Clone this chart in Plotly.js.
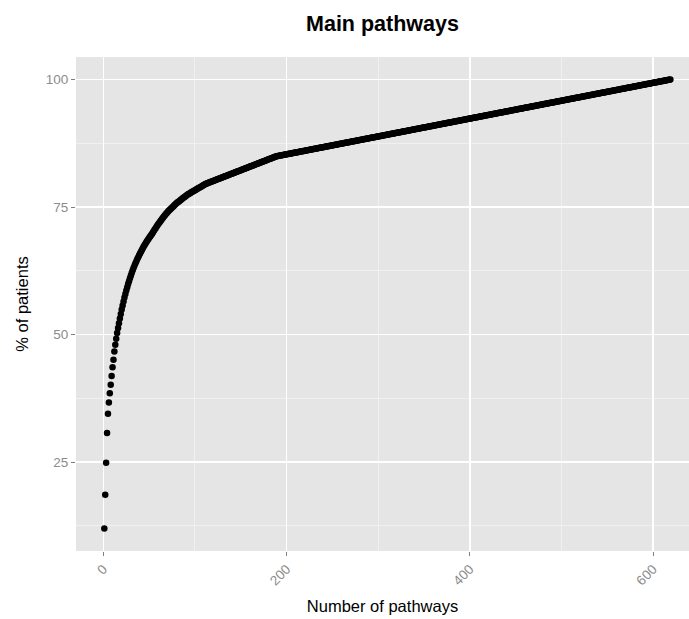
<!DOCTYPE html>
<html>
<head>
<meta charset="utf-8">
<script src="https://cdn.plot.ly/plotly-3.0.1.min.js"></script>
<style>html,body{margin:0;padding:0;background:#fff;}#chart{width:689px;height:619px;}</style>
</head>
<body>
<div id="chart"></div>
<script>
// Cumulative % of patients covered by the first N pathways (pathway 1, 2, 3, ...)
const firstPathways = [12.00, 18.60, 24.90, 30.70, 34.50, 36.70, 38.50, 40.20, 41.90, 43.60, 45.10, 46.70, 48.00, 49.20, 50.30];
const steepPart = [51.30, 52.25, 53.15, 54.05, 54.90, 55.70, 56.50, 57.25, 57.95, 58.65, 59.30, 59.90,
  60.48, 61.04, 61.58, 62.10, 62.60, 63.08, 63.54, 63.98, 64.40, 64.80, 65.18,
  65.55, 65.91, 66.26, 66.60, 66.93, 67.25, 67.56, 67.86, 68.15, 68.43, 68.70, 68.97, 69.23, 69.49, 69.74, 69.99];
const bendPart = [70.29, 70.58, 70.86, 71.14, 71.41, 71.67, 71.93, 72.18, 72.43, 72.67, 72.91, 73.14, 73.36, 73.58, 73.79, 74.00, 74.20, 74.38, 74.56, 74.73, 74.905,
  75.08, 75.255, 75.43, 75.605, 75.78,
  75.92, 76.06, 76.20, 76.34, 76.48, 76.62, 76.76, 76.90, 77.04, 77.18, 77.32, 77.46,
  77.565, 77.67, 77.775, 77.88, 77.985, 78.09, 78.195, 78.30, 78.405, 78.51, 78.615, 78.72, 78.825, 78.93, 79.035, 79.14, 79.245, 79.35, 79.455, 79.56];
const twoPatientPart = [79.63, 79.70, 79.77, 79.84, 79.91, 79.98, 80.05, 80.12, 80.19, 80.26, 80.33, 80.40, 80.47, 80.54, 80.61, 80.68, 80.75, 80.82, 80.89, 80.96,
  81.03, 81.10, 81.17, 81.24, 81.31, 81.38, 81.45, 81.52, 81.59, 81.66, 81.73, 81.80, 81.87, 81.94, 82.01, 82.08, 82.15, 82.22, 82.29, 82.36,
  82.43, 82.50, 82.57, 82.64, 82.71, 82.78, 82.85, 82.92, 82.99, 83.06, 83.13, 83.20, 83.27, 83.34, 83.41, 83.48, 83.55, 83.62, 83.69, 83.76,
  83.83, 83.90, 83.97, 84.04, 84.11, 84.18, 84.25, 84.32, 84.39, 84.46, 84.53, 84.60, 84.67, 84.74, 84.81, 84.88];
const onePatientPart = [
  84.950, 84.985, 85.020, 85.055, 85.090, 85.125, 85.160, 85.195, 85.230, 85.265, 85.300, 85.335, 85.370, 85.405, 85.440, 85.475, 85.510, 85.545, 85.580, 85.615,
  85.650, 85.685, 85.720, 85.755, 85.790, 85.825, 85.860, 85.895, 85.930, 85.965, 86.000, 86.035, 86.070, 86.105, 86.140, 86.175, 86.210, 86.245, 86.280, 86.315,
  86.350, 86.385, 86.420, 86.455, 86.490, 86.525, 86.560, 86.595, 86.630, 86.665, 86.700, 86.735, 86.770, 86.805, 86.840, 86.875, 86.910, 86.945, 86.980, 87.015,
  87.050, 87.085, 87.120, 87.155, 87.190, 87.225, 87.260, 87.295, 87.330, 87.365, 87.400, 87.435, 87.470, 87.505, 87.540, 87.575, 87.610, 87.645, 87.680, 87.715,
  87.750, 87.785, 87.820, 87.855, 87.890, 87.925, 87.960, 87.995, 88.030, 88.065, 88.100, 88.135, 88.170, 88.205, 88.240, 88.275, 88.310, 88.345, 88.380, 88.415,
  88.450, 88.485, 88.520, 88.555, 88.590, 88.625, 88.660, 88.695, 88.730, 88.765, 88.800, 88.835, 88.870, 88.905, 88.940, 88.975, 89.010, 89.045, 89.080, 89.115,
  89.150, 89.185, 89.220, 89.255, 89.290, 89.325, 89.360, 89.395, 89.430, 89.465, 89.500, 89.535, 89.570, 89.605, 89.640, 89.675, 89.710, 89.745, 89.780, 89.815,
  89.850, 89.885, 89.920, 89.955, 89.990, 90.025, 90.060, 90.095, 90.130, 90.165, 90.200, 90.235, 90.270, 90.305, 90.340, 90.375, 90.410, 90.445, 90.480, 90.515,
  90.550, 90.585, 90.620, 90.655, 90.690, 90.725, 90.760, 90.795, 90.830, 90.865, 90.900, 90.935, 90.970, 91.005, 91.040, 91.075, 91.110, 91.145, 91.180, 91.215,
  91.250, 91.285, 91.320, 91.355, 91.390, 91.425, 91.460, 91.495, 91.530, 91.565, 91.600, 91.635, 91.670, 91.705, 91.740, 91.775, 91.810, 91.845, 91.880, 91.915,
  91.950, 91.985, 92.020, 92.055, 92.090, 92.125, 92.160, 92.195, 92.230, 92.265, 92.300, 92.335, 92.370, 92.405, 92.440, 92.475, 92.510, 92.545, 92.580, 92.615,
  92.650, 92.685, 92.720, 92.755, 92.790, 92.825, 92.860, 92.895, 92.930, 92.965, 93.000, 93.035, 93.070, 93.105, 93.140, 93.175, 93.210, 93.245, 93.280, 93.315,
  93.350, 93.385, 93.420, 93.455, 93.490, 93.525, 93.560, 93.595, 93.630, 93.665, 93.700, 93.735, 93.770, 93.805, 93.840, 93.875, 93.910, 93.945, 93.980, 94.015,
  94.050, 94.085, 94.120, 94.155, 94.190, 94.225, 94.260, 94.295, 94.330, 94.365, 94.400, 94.435, 94.470, 94.505, 94.540, 94.575, 94.610, 94.645, 94.680, 94.715,
  94.750, 94.785, 94.820, 94.855, 94.890, 94.925, 94.960, 94.995, 95.030, 95.065, 95.100, 95.135, 95.170, 95.205, 95.240, 95.275, 95.310, 95.345, 95.380, 95.415,
  95.450, 95.485, 95.520, 95.555, 95.590, 95.625, 95.660, 95.695, 95.730, 95.765, 95.800, 95.835, 95.870, 95.905, 95.940, 95.975, 96.010, 96.045, 96.080, 96.115,
  96.150, 96.185, 96.220, 96.255, 96.290, 96.325, 96.360, 96.395, 96.430, 96.465, 96.500, 96.535, 96.570, 96.605, 96.640, 96.675, 96.710, 96.745, 96.780, 96.815,
  96.850, 96.885, 96.920, 96.955, 96.990, 97.025, 97.060, 97.095, 97.130, 97.165, 97.200, 97.235, 97.270, 97.305, 97.340, 97.375, 97.410, 97.445, 97.480, 97.515,
  97.550, 97.585, 97.620, 97.655, 97.690, 97.725, 97.760, 97.795, 97.830, 97.865, 97.900, 97.935, 97.970, 98.005, 98.040, 98.075, 98.110, 98.145, 98.180, 98.215,
  98.250, 98.285, 98.320, 98.355, 98.390, 98.425, 98.460, 98.495, 98.530, 98.565, 98.600, 98.635, 98.670, 98.705, 98.740, 98.775, 98.810, 98.845, 98.880, 98.915,
  98.950, 98.985, 99.020, 99.055, 99.090, 99.125, 99.160, 99.195, 99.230, 99.265, 99.300, 99.335, 99.370, 99.405, 99.440, 99.475, 99.510, 99.545, 99.580, 99.615,
  99.650, 99.685, 99.720, 99.755, 99.790, 99.825, 99.860, 99.895, 99.930, 99.965, 100.000];

const xTickVals = [0, 200, 400, 600];
const xTickText = ['0', '200', '400', '600'];
const yTickVals = [25, 50, 75, 100];
const yTickText = ['25', '50', '75', '100'];

const pctPatients = firstPathways.concat(steepPart, bendPart, twoPatientPart, onePatientPart);

const trace = {
  type: 'scatter',
  mode: 'markers',
  x0: 1,
  dx: 1,
  y: pctPatients,
  marker: {color: '#000000', size: 6.5, line: {width: 0}},
  hoverinfo: 'x+y',
  showlegend: false
};

const fontFam = 'Arial, "Liberation Sans", sans-serif';
const layout = {
  width: 689,
  height: 619,
  margin: {l: 76, r: 0, t: 57, b: 68, pad: 0},
  paper_bgcolor: '#FFFFFF',
  plot_bgcolor: '#E5E5E5',
  font: {family: fontFam},
  title: {
    text: '<b>Main pathways</b>',
    font: {family: fontFam, size: 21.5, color: '#000000'},
    x: 0.5, xref: 'paper', xanchor: 'center',
    y: 0.962, yref: 'container', yanchor: 'middle'
  },
  xaxis: {
    range: [-29.9, 639.3],
    tickmode: 'array', tickvals: xTickVals, ticktext: xTickText,
    tickangle: -45,
    ticks: 'outside', ticklen: 4, tickwidth: 1, tickcolor: '#7F7F7F',
    tickfont: {family: fontFam, size: 13.5, color: '#8C8C8C'},
    showgrid: true, gridcolor: '#FFFFFF', gridwidth: 1.6,
    minor: {tick0: 100, dtick: 200, showgrid: true, gridcolor: '#F2F2F2', gridwidth: 0.8, ticks: ''},
    zeroline: false, showline: false,
    title: {text: 'Number of pathways', font: {family: fontFam, size: 16.5, color: '#000000'}, standoff: 13},
    automargin: false
  },
  yaxis: {
    range: [7.6, 104.4],
    tickmode: 'array', tickvals: yTickVals, ticktext: yTickText,
    ticks: 'outside', ticklen: 4, tickwidth: 1, tickcolor: '#7F7F7F',
    tickfont: {family: fontFam, size: 13.5, color: '#8C8C8C'},
    showgrid: true, gridcolor: '#FFFFFF', gridwidth: 1.6,
    minor: {tick0: 12.5, dtick: 25, showgrid: true, gridcolor: '#F2F2F2', gridwidth: 0.8, ticks: ''},
    zeroline: false, showline: false,
    title: {text: '% of patients', font: {family: fontFam, size: 16.5, color: '#000000'}, standoff: 12},
    automargin: false
  }
};

Plotly.newPlot('chart', [trace], layout, {displayModeBar: false, staticPlot: true});
</script>
</body>
</html>
